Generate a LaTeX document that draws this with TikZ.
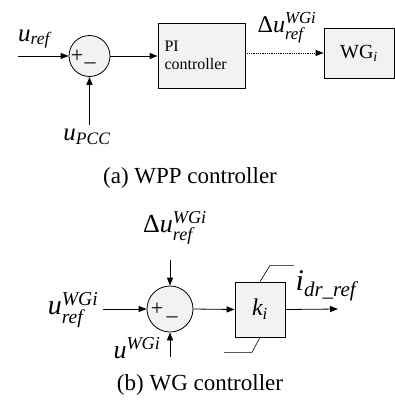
\documentclass[tikz,border=0pt]{standalone}
\usepackage{amsmath}
\usepackage{fontspec}
\setmainfont{Liberation Serif}
\usetikzlibrary{positioning, arrows.meta, calc}
\definecolor{boxgray}{RGB}{242,242,242}

\begin{document}
\begin{tikzpicture}[
  x=1pt, y=-1pt,
  every node/.style={font=\fontsize{16}{18}\selectfont},
  box/.style={rectangle, draw, line width=0.8pt, fill=boxgray, inner sep=0pt},
  sum/.style={circle, draw, line width=0.8pt, fill=boxgray, inner sep=0pt},
  sgn/.style={inner sep=0pt, font=\fontsize{22}{24}\selectfont},
  sig/.style={line width=0.8pt, -{Triangle[length=8pt, width=6pt]}},
  lbl/.style={font=\fontsize{25}{28}\selectfont, inner sep=0pt},
  biglbl/.style={font=\fontsize{28}{30}\selectfont, inner sep=0pt},
  captext/.style={font=\fontsize{23}{26}\selectfont}
]
  \useasboundingbox (0,0) rectangle (395,410);

  % (a) WPP controller
  \node[sum, minimum size=41pt] (S1) at (89.5,56) {};
  \node[sgn] (p1) at (77,56) {+};
  \node[sgn] (m1) at (90,66) {--};
  \node[box, minimum width=87pt, minimum height=65pt, text width=74pt,
        align=left] (PI) at (201.5,55.5) {PI\\controller};
  \node[box, minimum width=70pt, minimum height=50pt,
        font=\fontsize{20}{22}\selectfont] (WG) at (359,53) {WG$_{\textit{i}}$};

  \coordinate (in1) at (18,56);
  \coordinate (pcc) at (89.5,125);
  \node[lbl] (uref) at (34,39) {$\textit{u}_{\textit{ref}}$};
  \node[lbl] (upcc) at (87,137) {$\textit{u}_{\textit{PCC}}$};
  \node[lbl, font=\fontsize{24}{26}\selectfont] (du1) at (287,28) {Δ$\textit{u}^{\textit{WGi}}_{\textit{ref}}$};

  \draw[sig] (in1) -- (S1.west);
  \draw[sig] (pcc) -- (S1.south);
  \draw[sig] (S1.east) -- (S1.east -| PI.west);
  \draw[sig, densely dotted] (WG.west -| PI.east) -- (WG.west);

  \node[captext] (capa) at (190,178) {(a) WPP controller};

  % (b) WG controller
  \node[sum, minimum size=46pt] (S2) at (170,309) {};
  \node[sgn] (p2) at (157,309) {+};
  \node[sgn] (m2) at (172,320) {--};
  \node[box, minimum width=50pt, minimum height=55pt,
        font=\fontsize{24}{26}\selectfont] (K) at (260,309.5) {$\textit{k}_{\textit{i}}$};
  \draw[line width=0.6pt] (K.north) -- ++(10,-16) -- ++(24,0);
  \draw[line width=0.6pt] (K.south) -- ++(-8,15) -- ++(-28,0);

  \coordinate (in2) at (103,309);
  \coordinate (top2) at (170,260);
  \coordinate (bot2) at (170,357);
  \coordinate (out2) at (338,309);
  \node[biglbl] (uref2) at (73,310) {$\textit{u}^{\textit{WGi}}_{\textit{ref}}$};
  \node[biglbl, font=\fontsize{26}{28}\selectfont] (du2) at (175,228) {Δ$\textit{u}^{\textit{WGi}}_{\textit{ref}}$};
  \node[biglbl, font=\fontsize{26}{28}\selectfont] (uwg) at (137,348) {$\textit{u}^{\textit{WGi}}$};
  \node[biglbl, font=\fontsize{30}{32}\selectfont] (idr) at (326,286) {$\textit{i}_{\textit{dr\_ref}}$};

  \draw[sig] (in2) -- (S2.west);
  \draw[sig] (top2) -- (S2.north);
  \draw[sig] (bot2) -- (S2.south);
  \draw[sig] (S2.east) -- (K.west);
  \draw[sig] (K.east) -- (out2);

  \node[captext] (capb) at (200,385) {(b) WG controller};
\end{tikzpicture}
\end{document}
